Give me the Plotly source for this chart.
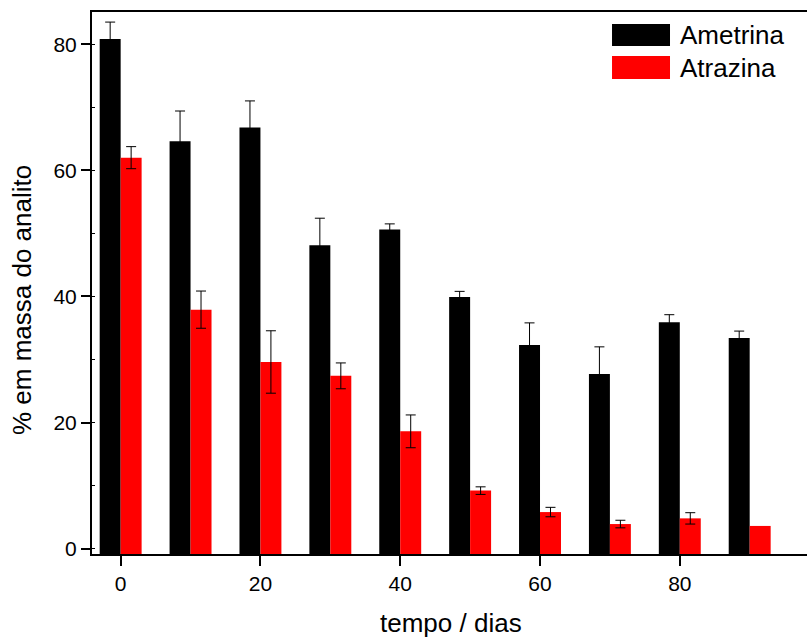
import plotly.graph_objects as go

# ---- data ----
dias = [0, 10, 20, 30, 40, 50, 60, 70, 80, 90]
ametrina = [80.8, 64.6, 66.8, 48.1, 50.6, 39.9, 32.3, 27.7, 35.9, 33.4]
ametrina_err = [2.7, 4.8, 4.2, 4.3, 0.9, 0.9, 3.5, 4.3, 1.2, 1.1]
atrazina = [62.0, 37.9, 29.6, 27.4, 18.6, 9.2, 5.8, 3.9, 4.8, 3.6]
atrazina_err = [1.75, 2.95, 4.95, 2.05, 2.6, 0.6, 0.75, 0.6, 0.9, None]
y_ticks = [0, 20, 40, 60, 80]
x_ticks = [0, 20, 40, 60, 80]
series_names = ["Ametrina", "Atrazina"]
series_colors = ["#000000", "#ff0000"]

Y_MIN, Y_MAX = -0.85, 85.1
X_MIN, X_MAX = -4.1, 98.2
FONT = "Arial, 'Liberation Sans', sans-serif"


def err_array(errs):
    # missing error -> "NaN" so plotly.js draws no error bar at all
    return ["NaN" if e is None else e for e in errs]


fig = go.Figure()
for name, vals, errs, col in [
    (series_names[0], ametrina, ametrina_err, series_colors[0]),
    (series_names[1], atrazina, atrazina_err, series_colors[1]),
]:
    # bars drawn from the bottom of the axis (as in the original software)
    fig.add_trace(go.Bar(
        x=dias, y=[v - Y_MIN for v in vals], base=Y_MIN, name=name,
        marker=dict(color=col, line=dict(width=0)),
        error_y=dict(type="data", array=err_array(errs), visible=True,
                     color="#000000", thickness=1, width=5),
        showlegend=False,
    ))

fig.update_layout(
    width=807, height=637,
    margin=dict(l=92, r=0, t=12, b=83),
    paper_bgcolor="white", plot_bgcolor="white",
    barmode="group", bargap=0.4, bargroupgap=0.0,
    font=dict(family=FONT, size=20, color="black"),
)
fig.update_xaxes(
    range=[X_MIN, X_MAX], tickvals=x_ticks, ticktext=[str(t) for t in x_ticks],
    showgrid=False, zeroline=False,
    showline=True, linecolor="black", linewidth=2, mirror=True,
    ticks="outside", ticklen=10, tickwidth=2, tickcolor="black",
    tickfont=dict(size=21),
)
fig.update_yaxes(
    range=[Y_MIN, Y_MAX], tickvals=y_ticks, ticktext=[str(t) for t in y_ticks],
    showgrid=False, zeroline=False,
    showline=True, linecolor="black", linewidth=2, mirror=False,
    ticks="outside", ticklen=9, tickwidth=2, tickcolor="black",
    tickfont=dict(size=21),
    minor=dict(dtick=10, ticks="inside", ticklen=3, tickwidth=1, tickcolor="black"),
)

# axis titles
fig.add_annotation(text="tempo / dias", xref="paper", yref="paper",
                   x=0.502, y=-0.127, xanchor="center", yanchor="middle",
                   showarrow=False, font=dict(size=26))
fig.add_annotation(text="% em massa do analito", xref="paper", yref="paper",
                   x=-0.0979, y=0.4686, xanchor="center", yanchor="middle",
                   textangle=-90, showarrow=False, font=dict(size=26))

# legend (large swatches as in the original)
legend_rows = [(0.9779, 0.9373, 0.9576), (0.9188, 0.8764, 0.8967)]
for (y1, y0, yc), name, col in zip(legend_rows, series_names, series_colors):
    fig.add_shape(type="rect", xref="paper", yref="paper",
                  x0=0.7273, x1=0.8084, y0=y0, y1=y1,
                  fillcolor=col, line=dict(width=0))
    fig.add_annotation(text=name, xref="paper", yref="paper",
                       x=0.8196, y=yc, xanchor="left", yanchor="middle",
                       showarrow=False, font=dict(size=26))

fig.write_html(
    "out.html",
    config={"displayModeBar": False},
    post_script="document.body.style.margin='0';document.body.style.overflow='hidden';",
)
